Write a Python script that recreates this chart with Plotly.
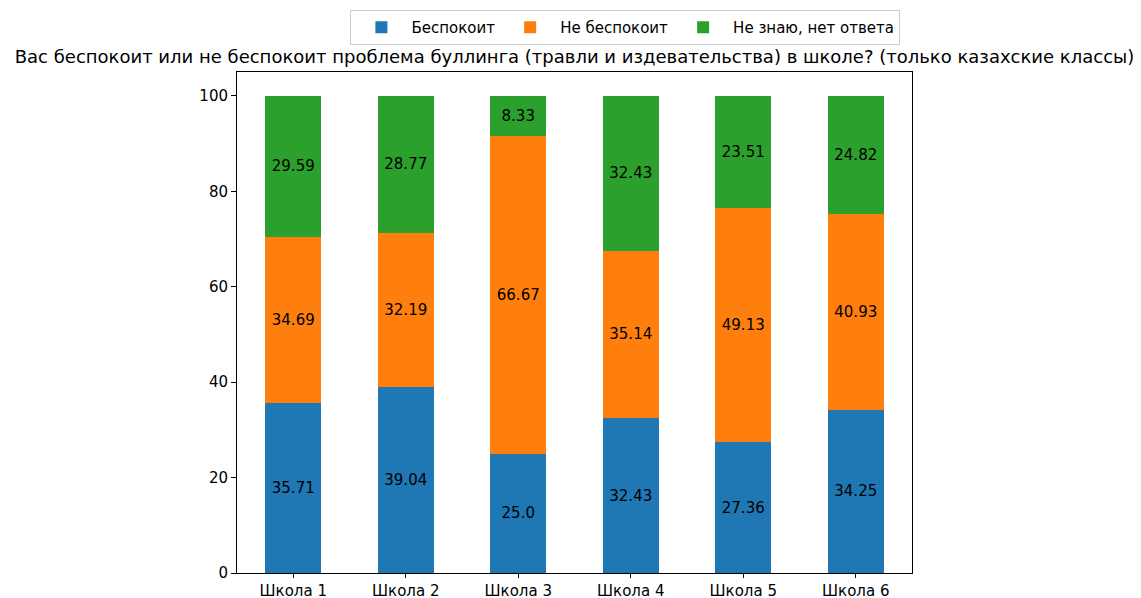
import plotly.graph_objects as go

# ── Данные ─────────────────────────────────────────────────────────────────
schools = ["Школа 1", "Школа 2", "Школа 3", "Школа 4", "Школа 5", "Школа 6"]
worried = [35.71, 39.04, 25.0, 32.43, 27.36, 34.25]
not_worried = [34.69, 32.19, 66.67, 35.14, 49.13, 40.93]
dont_know = [29.59, 28.77, 8.33, 32.43, 23.51, 24.82]

series = [
    ("Беспокоит", worried, "#1f77b4"),
    ("Не беспокоит", not_worried, "#ff7f0e"),
    ("Не знаю, нет ответа", dont_know, "#2ca02c"),
]

FONT = "DejaVu Sans, sans-serif"

fig = go.Figure()
for name, vals, color in series:
    fig.add_trace(go.Bar(
        x=list(range(len(schools))),
        y=vals,
        name=name,
        width=0.5,
        marker=dict(color=color, line_width=0),
        text=[str(v) for v in vals],
        textposition="inside",
        insidetextanchor="middle",
        textangle=0,
        constraintext="none",
        textfont=dict(color="black", size=15, family=FONT),
    ))

# страница добавляет отступ 8px, поэтому фигура чуть меньше окна
fig.update_layout(
    barmode="stack",
    width=1133,
    height=590,
    margin=dict(l=229, r=229, t=64, b=25, autoexpand=False),
    paper_bgcolor="white",
    plot_bgcolor="white",
    font=dict(family=FONT, color="black", size=15),
    title=dict(
        text="Вас беспокоит или не беспокоит проблема буллинга (травли и издевательства) в школе? (только казахские классы)",
        font=dict(size=18, color="black"),
        xref="paper", x=0.5, xanchor="center",
        yref="container", y=0.917, yanchor="middle",
    ),
    legend=dict(
        orientation="h",
        x=0.168, xanchor="left",
        y=1.124, yanchor="top",
        bordercolor="#cccccc", borderwidth=1,
        font=dict(size=15),
        itemwidth=50,
        traceorder="normal",
    ),
    xaxis=dict(
        range=[-0.5, 5.5],
        tickvals=list(range(len(schools))),
        ticktext=schools,
        showgrid=False,
        showline=True, linecolor="black", mirror=True,
        ticks="outside", ticklen=4, tickcolor="black",
        zeroline=False, automargin=False,
    ),
    yaxis=dict(
        range=[0, 105],
        dtick=20,
        showgrid=False,
        showline=True, linecolor="black", mirror=True,
        ticks="outside", ticklen=5, tickcolor="black",
        zeroline=False, automargin=False,
    ),
)

fig.write_html("out.html")
